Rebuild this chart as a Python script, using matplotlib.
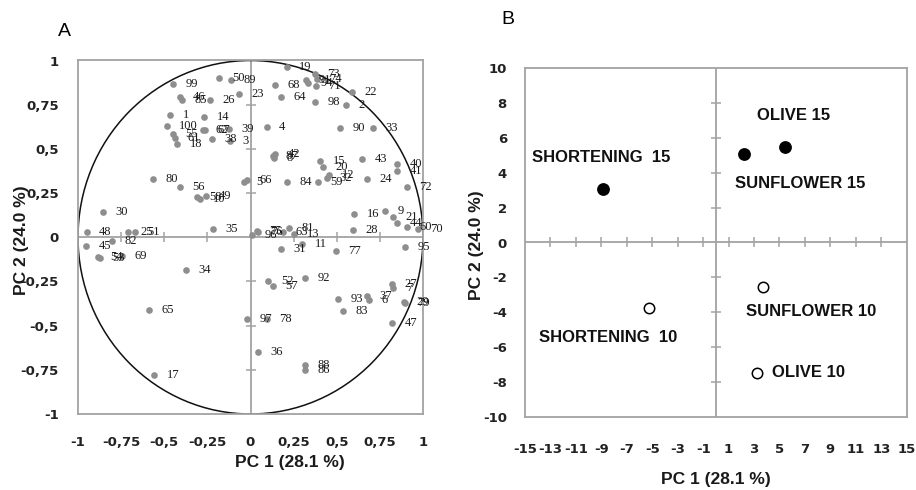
import matplotlib.pyplot as plt
from matplotlib.patches import Circle
import numpy as np

plt.rcParams['axes.unicode_minus'] = False

# ---- panel A: loadings of the variables on PC1 / PC2 ----
var_ids = [99, 46, 85, 1, 100, 55, 61, 18, 80, 56,
           58, 10, 49, 30, 48, 25, 51, 82, 45, 54,
           53, 69, 34, 65, 17, 50, 89, 23, 26, 14,
           62, 67, 38, 39, 3, 4, 87, 42, 8, 5,
           66, 84, 35, 96, 75, 76, 19, 94, 91, 73,
           74, 71, 68, 64, 98, 22, 2, 90, 33, 43,
           40, 41, 72, 24, 15, 20, 12, 32, 59, 16,
           9, 21, 44, 60, 70, 28, 63, 81, 13, 31,
           11, 77, 95, 92, 52, 57, 93, 83, 37, 6,
           27, 7, 29, 79, 47, 97, 78, 36, 88, 86]
pc1_load = [-0.451, -0.409, -0.399, -0.467, -0.486, -0.448, -0.438, -0.424, -0.563, -0.409,
            -0.310, -0.293, -0.258, -0.853, -0.950, -0.708, -0.670, -0.803, -0.955, -0.886,
            -0.872, -0.745, -0.376, -0.588, -0.558, -0.181, -0.115, -0.065, -0.235, -0.270,
            -0.274, -0.264, -0.225, -0.125, -0.119, 0.094, 0.129, 0.142, 0.136, -0.038,
            -0.020, 0.210, -0.219, 0.009, 0.038, 0.043, 0.210, 0.333, 0.322, 0.374,
            0.386, 0.380, 0.142, 0.177, 0.374, 0.588, 0.554, 0.519, 0.710, 0.645,
            0.848, 0.848, 0.906, 0.674, 0.403, 0.420, 0.455, 0.443, 0.391, 0.600,
            0.780, 0.826, 0.848, 0.906, 0.971, 0.596, 0.188, 0.223, 0.252, 0.175,
            0.299, 0.494, 0.896, 0.316, 0.103, 0.129, 0.509, 0.538, 0.674, 0.687,
            0.819, 0.828, 0.892, 0.896, 0.822, -0.022, 0.096, 0.045, 0.316, 0.316]
pc2_load = [0.868, 0.792, 0.774, 0.693, 0.630, 0.585, 0.564, 0.529, 0.330, 0.283,
            0.225, 0.219, 0.236, 0.141, 0.032, 0.032, 0.032, -0.019, -0.047, -0.109,
            -0.115, -0.104, -0.184, -0.411, -0.777, 0.902, 0.887, 0.808, 0.774, 0.683,
            0.608, 0.604, 0.557, 0.615, 0.542, 0.626, 0.462, 0.472, 0.451, 0.315,
            0.324, 0.311, 0.048, 0.010, 0.038, 0.027, 0.962, 0.875, 0.887, 0.921,
            0.898, 0.853, 0.859, 0.796, 0.768, 0.819, 0.751, 0.619, 0.619, 0.444,
            0.415, 0.377, 0.283, 0.330, 0.434, 0.400, 0.355, 0.338, 0.310, 0.132,
            0.147, 0.113, 0.079, 0.057, 0.044, 0.042, 0.027, 0.055, 0.021, -0.066,
            -0.041, -0.075, -0.053, -0.230, -0.245, -0.273, -0.349, -0.415, -0.330, -0.353,
            -0.264, -0.285, -0.368, -0.372, -0.487, -0.462, -0.460, -0.651, -0.720, -0.749]

# ---- panel B: sample scores ----
samples = ['SHORTENING 15', 'SUNFLOWER 15', 'OLIVE 15',
           'SHORTENING 10', 'SUNFLOWER 10', 'OLIVE 10']
pc1_score = [-8.84, 2.24, 5.44, -5.25, 3.73, 3.21]
pc2_score = [3.07, 5.08, 5.50, -3.78, -2.57, -7.47]
filled = [True, True, True, False, False, False]

# where each sample name is written (centre of the text)
name_pos = [(-9.0, 4.9), (6.6, 3.4), (6.1, 7.3),
            (-8.45, -5.45), (7.5, -3.97), (7.3, -7.47)]

GRID = '#a3a3a3'
W, H = 916, 490
fig = plt.figure(figsize=(W / 100, H / 100), dpi=100)


def frac(x0, y0, x1, y1):
    return [x0 / W, 1 - y1 / H, (x1 - x0) / W, (y1 - y0) / H]


def excel_frame(ax, xt, yt):
    for s in ax.spines.values():
        s.set_color(GRID)
        s.set_linewidth(1.3)
    ax.axhline(0, color=GRID, lw=1.3, zorder=1)
    ax.axvline(0, color=GRID, lw=1.3, zorder=1)
    # small crossing tick marks on the zero lines
    ax.plot(xt, np.zeros(len(xt)), ls='none', marker='|', ms=7, mew=1.1, color=GRID, zorder=1)
    ax.plot(np.zeros(len(yt)), yt, ls='none', marker='_', ms=7, mew=1.1, color=GRID, zorder=1)


# panel A
axA = fig.add_axes(frac(78, 60.5, 423, 414))
axA.set_xlim(-1, 1)
axA.set_ylim(-1, 1)
excel_frame(axA, [-0.75, -0.5, -0.25, 0.25, 0.5, 0.75], [-0.75, -0.5, -0.25, 0.25, 0.5, 0.75])
axA.add_patch(Circle((0, 0), 1, fill=False, ec='#111111', lw=1.1, zorder=2))
axA.plot(pc1_load, pc2_load, ls='none', marker='o', ms=4.8, color='#8e8e8e', mec='none', zorder=3)
for vid, x, y in zip(var_ids, pc1_load, pc2_load):
    axA.annotate(str(vid), (x, y), xytext=(9, 0), textcoords='offset points',
                 ha='left', va='center', fontsize=9, family='Liberation Serif',
                 color='#1a1a1a', zorder=4)
ticksA = [-1, -0.75, -0.5, -0.25, 0, 0.25, 0.5, 0.75, 1]
labA = ['-1', '-0,75', '-0,5', '-0,25', '0', '0,25', '0,5', '0,75', '1']
axA.set_xticks(ticksA)
axA.set_xticklabels(labA)
axA.set_yticks(ticksA)
axA.set_yticklabels(labA)
axA.tick_params(length=0, labelsize=9.5, labelcolor='#222222', pad=14)
axA.tick_params(axis='x', pad=16)
for t in axA.get_xticklabels() + axA.get_yticklabels():
    t.set_fontweight('bold')

# panel B
axB = fig.add_axes(frac(525, 68.3, 906.7, 416.7))
axB.set_xlim(-15, 15)
axB.set_ylim(-10, 10)
excel_frame(axB, [-13, -11, -9, -7, -5, -3, -1, 1, 3, 5, 7, 9, 11, 13],
            [-8, -6, -4, -2, 2, 4, 6, 8])
for name, x, y, f, (tx, ty) in zip(samples, pc1_score, pc2_score, filled, name_pos):
    if f:
        axB.plot(x, y, 'o', ms=8.2, color='black', zorder=3)
    else:
        axB.plot(x, y, 'o', ms=7.5, mfc='white', mec='black', mew=1.1, zorder=3)
    axB.text(tx, ty, name.replace(' ', '  ') if name.startswith('SHORT') else name,
             ha='center', va='center', fontsize=12, fontweight='bold',
             family='Liberation Sans', color='#111111', zorder=4)
axB.set_xticks(range(-15, 16, 2))
axB.set_yticks(range(-10, 11, 2))
axB.tick_params(length=0, labelsize=9.5, labelcolor='#222222', pad=13)
axB.tick_params(axis='x', pad=19)
for t in axB.get_xticklabels() + axB.get_yticklabels():
    t.set_fontweight('bold')

# axis titles and panel letters
lab = dict(fontsize=12.5, fontweight='bold', family='Liberation Sans', color='#1a1a1a',
           ha='center', va='center')
fig.text(290 / W, 1 - 462 / H, 'PC 1 (28.1 %)', **lab)
fig.text(716 / W, 1 - 479 / H, 'PC 1 (28.1 %)', **lab)
fig.text(22 / W, 1 - 240 / H, 'PC 2 (24.0 %)', rotation=90, **lab)
fig.text(477 / W, 1 - 245 / H, 'PC 2 (24.0 %)', rotation=90, **lab)
fig.text(64 / W, 1 - 31 / H, 'A', fontsize=14, family='Liberation Sans', ha='center', va='center')
fig.text(508 / W, 1 - 19 / H, 'B', fontsize=14, family='Liberation Sans', ha='center', va='center')

fig.savefig('out.png', dpi=100)
